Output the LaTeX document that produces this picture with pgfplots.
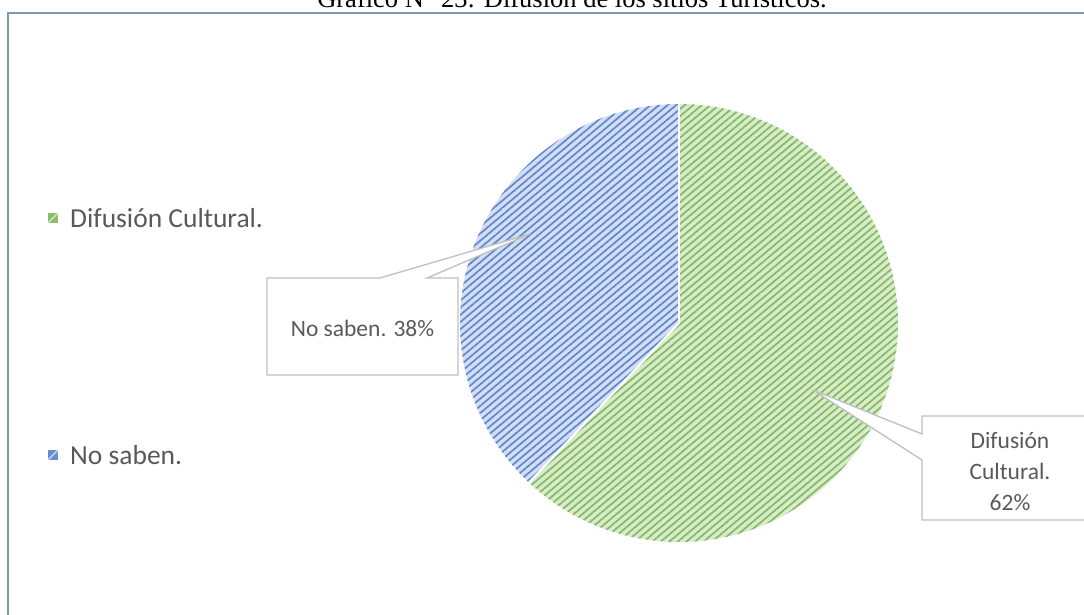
\documentclass[border=0pt]{standalone}
\usepackage{pgfplots}
\pgfplotsset{compat=1.18}
\usepackage{pgfplotstable}
\usepackage{fontspec}
\setmainfont{Carlito}
\newfontfamily\titlefont{Liberation Serif}
\usetikzlibrary{patterns.meta}
\definecolor{gbg}{HTML}{D8ECCB}
\definecolor{gfg}{HTML}{70AD47}
\definecolor{bbg}{HTML}{D3DEF3}
\definecolor{bfg}{HTML}{4472C4}
\definecolor{frame}{HTML}{8497B0}
\definecolor{callout}{HTML}{BFBFBF}
\definecolor{txt}{HTML}{595959}
\pgfplotstableread{
label value
Difusion 62
NoSaben 38
}\piedata
\begin{document}
\pgfplotstablegetelem{0}{value}\of\piedata \let\vA\pgfplotsretval
\pgfplotstablegetelem{1}{value}\of\piedata \let\vB\pgfplotsretval
\begin{tikzpicture}[x=1pt,y=1pt]
\useasboundingbox (0,0) rectangle (1084,615);
\clip (0,0) rectangle (1084,615);
\fill[white] (0,0) rectangle (1084,615);
% title
\node[anchor=base, font=\titlefont\fontsize{26.5}{30}\selectfont, inner sep=0] at (572,607) {Gráfico N° 23: Difusión de los sitios Turísticos.};
% frame
\draw[frame, line width=2pt] (8,-20) -- (8,602) -- (1100,602);
\begin{axis}[at={(679pt,292pt)}, anchor=center, width=438pt, height=438pt,
  scale only axis, hide axis, xmin=-1, xmax=1, ymin=-1, ymax=1, clip=false]
  \pgfmathsetmacro{\aEnd}{90-3.6*\vA}
  \pgfmathsetmacro{\bEnd}{\aEnd-3.6*\vB}
  \path[preaction={fill=gbg}, pattern={Lines[angle=40, distance=5.5pt, line width=1.7pt]}, pattern color=gfg!85]
    (axis cs:0,0) -- ++(90:219pt) arc[start angle=90, end angle=\aEnd, radius=219pt] -- cycle;
  \path[preaction={fill=bbg}, pattern={Lines[angle=40, distance=5.5pt, line width=1.7pt]}, pattern color=bfg!85]
    (axis cs:0,0) -- ++(\aEnd:219pt) arc[start angle=\aEnd, end angle=\bEnd, radius=219pt] -- cycle;
  \draw[white, line width=2.2pt] (axis cs:0,0) -- ++(90:220pt);
  \draw[white, line width=2.2pt] (axis cs:0,0) -- ++(\aEnd:220pt);
\end{axis}
% callouts
\draw[callout, fill=white, line width=1.3pt, line join=miter] (267,337) -- (380,337) -- (530,381) -- (427,337) -- (458,337) -- (458,240) -- (267,240) -- cycle;
\node[txt, font=\fontsize{23.5}{30}\selectfont] at (362.5,287) {No saben. 38\%};
\draw[callout, fill=white, line width=1.3pt, line join=miter] (922,199) -- (1098,199) -- (1098,95) -- (922,95) -- (922,155) -- (813,225) -- (922,181) -- cycle;
\node[txt, font=\fontsize{23.5}{31}\selectfont, align=center] at (1010,143) {Difusión\\Cultural.\\62\%};
% legend
\fill[gfg!80] (48,392) rectangle (58,402);
\draw[gbg, line width=1.2pt] (48,392) -- (58,402);
\fill[bfg!80] (48,155) rectangle (58,165);
\draw[bbg, line width=1.2pt] (48,155) -- (58,165);
\node[txt, anchor=west, inner sep=0, font=\fontsize{27.5}{32}\selectfont] at (70,397) {Difusión Cultural.};
\node[txt, anchor=west, inner sep=0, font=\fontsize{27.5}{32}\selectfont] at (70,160) {No saben.};
\end{tikzpicture}
\end{document}
